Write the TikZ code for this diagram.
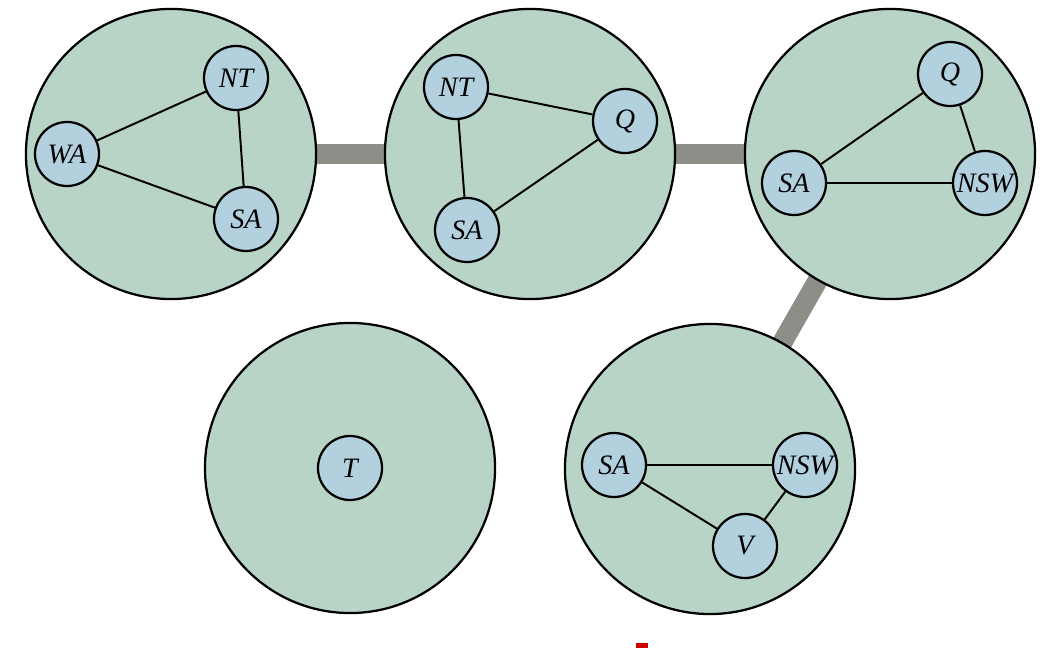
\documentclass[tikz,border=0pt]{standalone}
\usepackage{fontspec}
\setmainfont{Liberation Serif}
\usetikzlibrary{backgrounds}
\definecolor{clusterfill}{RGB}{184,212,198}
\definecolor{varfill}{RGB}{178,208,222}
\definecolor{bargray}{RGB}{142,142,137}
\begin{document}
\begin{tikzpicture}[x=0.025cm,y=-0.025cm]

        \useasboundingbox (0,0) rectangle (1051,648);

        \begin{scope}[every node/.style={circle,draw,line width=1.6pt,fill=clusterfill,minimum size=7.25cm,inner sep=0pt}]
          \node (c1) at (171,154) {};
          \node (c2) at (530,154) {};
          \node (c3) at (890,154) {};
          \node (c4) at (350,468) {};
          \node (c5) at (710,469) {};
        \end{scope}

        \begin{scope}[every node/.style={circle,draw,line width=1.6pt,fill=varfill,minimum size=1.6cm,inner sep=0pt,font=\fontsize{20}{24}\selectfont\itshape}]
          \node (wa1)  at (67,154)  {WA};
          \node (nt1)  at (236,78)  {NT};
          \node (sa1)  at (246,219) {SA};
          \node (nt2)  at (456,87)  {NT};
          \node (q2)   at (625,121) {Q};
          \node (sa2)  at (467,230) {SA};
          \node (q3)   at (950,74)  {Q};
          \node (sa3)  at (794,183) {SA};
          \node (nsw3) at (985,183) {NSW};
          \node (t4)   at (350,468) {T};
          \node (sa5)  at (614,465) {SA};
          \node (nsw5) at (805,465) {NSW};
          \node (v5)   at (745,546) {V};
        \end{scope}

        \begin{scope}[every edge/.style={draw,line width=1.4pt}]
          \path (wa1)  edge (nt1);
          \path (wa1)  edge (sa1);
          \path (nt1)  edge (sa1);
          \path (nt2)  edge (q2);
          \path (nt2)  edge (sa2);
          \path (sa2)  edge (q2);
          \path (sa3)  edge (q3);
          \path (sa3)  edge (nsw3);
          \path (q3)   edge (nsw3);
          \path (sa5)  edge (nsw5);
          \path (sa5)  edge (v5);
          \path (v5)   edge (nsw5);
        \end{scope}

        \begin{pgfonlayer}{background}
          \begin{scope}[every edge/.style={draw,bargray,line width=0.5cm}]
            \path (c1.center) edge (c2.center);
            \path (c2.center) edge (c3.center);
            \path (c3.center) edge (c5.center);
          \end{scope}
        \end{pgfonlayer}

        \fill[red!80!black] (636,643) rectangle (648,648);

      \end{tikzpicture}
\end{document}
